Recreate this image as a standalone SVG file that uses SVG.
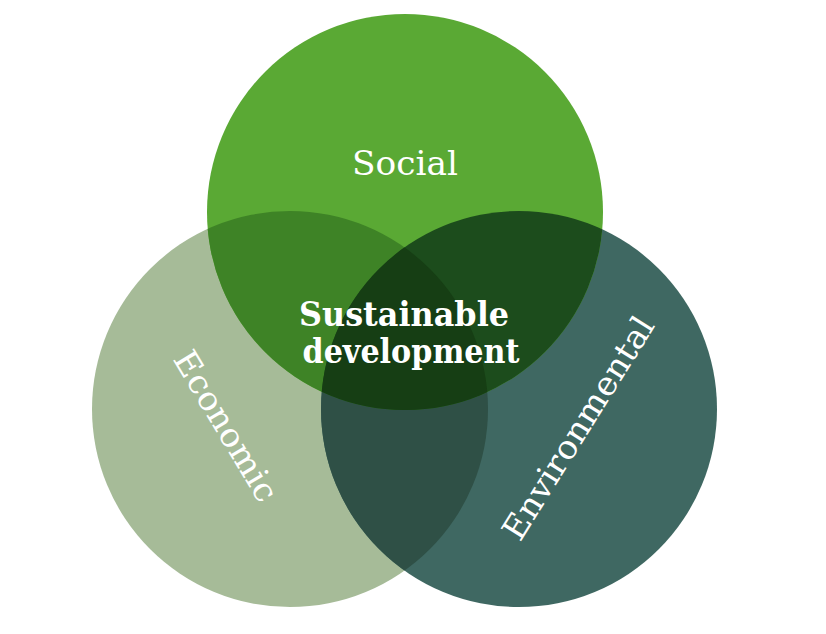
<svg xmlns="http://www.w3.org/2000/svg" width="826" height="634" viewBox="0 0 826 634">
<style>
.lbl{font-family:"DejaVu Serif","Liberation Serif",serif;fill:#ffffff;}
.main{font-family:"DejaVu Serif","Liberation Serif",serif;font-weight:bold;fill:#ffffff;font-size:34px;}
</style>
<defs>
<circle id="cS" cx="405" cy="212" r="198"/>
<circle id="cE" cx="290" cy="409" r="198"/>
<circle id="cV" cx="519" cy="409" r="198"/>
<clipPath id="clipS"><use href="#cS"/></clipPath>
<clipPath id="clipE"><use href="#cE"/></clipPath>
<clipPath id="clipV"><use href="#cV"/></clipPath>
</defs>
<rect width="826" height="634" fill="#ffffff"/>
<g id="economic">
<use href="#cE" fill="#a6bb98"/>
<text class="lbl" font-size="33" transform="translate(226,426) rotate(59)" text-anchor="middle" dominant-baseline="central" textLength="170" lengthAdjust="spacingAndGlyphs">Economic</text>
</g>
<g id="environmental">
<use href="#cV" fill="#3f6862"/>
<text class="lbl" font-size="33" transform="translate(578,428) rotate(-58)" text-anchor="middle" dominant-baseline="central" textLength="256" lengthAdjust="spacingAndGlyphs">Environmental</text>
</g>
<g id="social">
<use href="#cS" fill="#5aa934"/>
<text class="lbl" font-size="34" x="405" y="175" text-anchor="middle" textLength="106" lengthAdjust="spacingAndGlyphs">Social</text>
</g>
<g id="overlaps">
<g clip-path="url(#clipE)"><use href="#cV" fill="#2f5046"/></g>
<g clip-path="url(#clipS)"><use href="#cE" fill="#3e8326"/></g>
<g clip-path="url(#clipS)"><use href="#cV" fill="#1c4c1c"/></g>
<g clip-path="url(#clipS)"><g clip-path="url(#clipE)"><use href="#cV" fill="#163e14"/></g></g>
</g>
<g id="sustainable">
<text class="main" x="404" y="326" text-anchor="middle" textLength="210" lengthAdjust="spacingAndGlyphs">Sustainable</text>
<text class="main" x="411" y="363" text-anchor="middle" textLength="217" lengthAdjust="spacingAndGlyphs">development</text>
</g>
<g id="connectors"/>
</svg>
